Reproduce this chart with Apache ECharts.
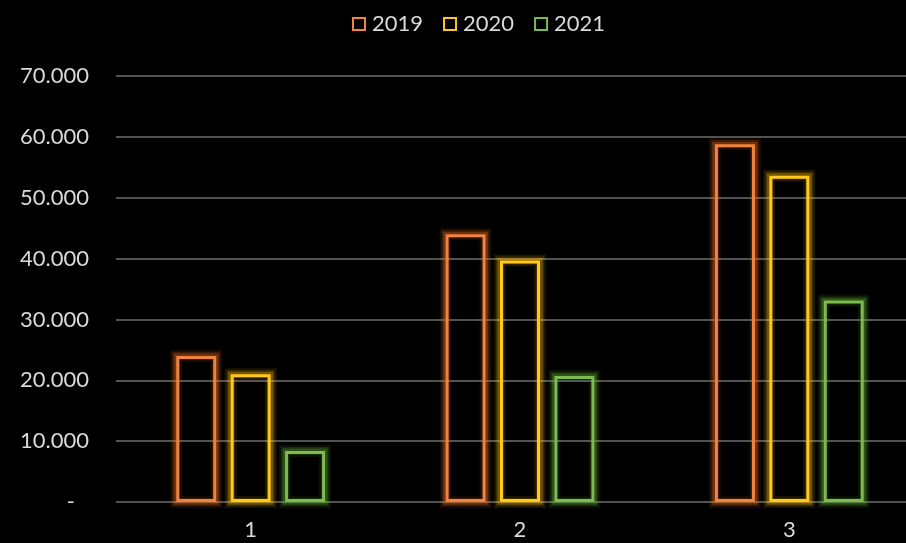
<!DOCTYPE html>
<html>
<head>
<meta charset="utf-8">
<script src="https://cdn.jsdelivr.net/npm/echarts@6/dist/echarts.min.js"></script>
<style>html,body{margin:0;padding:0;background:#000;}#c{width:906px;height:543px;}</style>
</head>
<body>
<div id="c"></div>
<script>
const categories = ['1', '2', '3'];
const seriesNames = ['2019', '2020', '2021'];
const values2019 = [24000, 44000, 58800];
const values2020 = [21000, 39700, 53600];
const values2021 = [8400, 20700, 33100];
const yTicks = [0, 10000, 20000, 30000, 40000, 50000, 60000, 70000];

const colors = ['#F0833F', '#FFC81A', '#7DBA50'];
const glowRGB = ['237,110,30', '255,192,0', '100,175,50'];
const allValues = [values2019, values2020, values2021];

const chart = echarts.init(document.getElementById('c'));
const fontFam = 'Lato, "DejaVu Sans", sans-serif';
const yMin = yTicks[0], yMax = yTicks[yTicks.length - 1];

const BAR_W = 40, GAP_RATIO = 0.36;

function glowSeries(i) {
  return {
    name: 'glow' + seriesNames[i],
    type: 'custom',
    silent: true,
    z: 1,
    data: allValues[i].map((v, k) => [k, v]),
    renderItem: function (params, api) {
      const step = BAR_W * (1 + GAP_RATIO);
      const cx = api.coord([api.value(0), 0])[0] + (i - 1) * step;
      const top = api.coord([api.value(0), api.value(1)])[1];
      const bottom = api.coord([api.value(0), 0])[1];
      const rect = { x: cx - BAR_W / 2, y: top, width: BAR_W, height: bottom - top };
      const layers = [[12, 0.10], [8, 0.16], [5, 0.28]];
      return {
        type: 'group',
        children: layers.map(l => ({
          type: 'rect',
          shape: rect,
          style: { fill: 'none', stroke: 'rgba(' + glowRGB[i] + ',' + l[1] + ')', lineWidth: l[0] }
        }))
      };
    }
  };
}

chart.setOption({
  backgroundColor: '#000',
  animation: false,
  legend: {
    top: 8,
    left: 347,
    itemWidth: 12,
    itemHeight: 12,
    itemGap: 20,
    icon: 'rect',
    textStyle: { color: '#d9d9d9', fontSize: 22, fontFamily: fontFam, padding: [0, 0, 0, 2] },
    data: seriesNames.map((n, i) => ({
      name: n,
      itemStyle: { color: 'rgba(0,0,0,0)', borderColor: colors[i], borderWidth: 2 }
    }))
  },
  grid: { left: 116, right: -18, top: 76, bottom: 41, containLabel: false, outerBoundsMode: 'none' },
  xAxis: {
    type: 'category',
    data: categories,
    axisLine: { show: false },
    axisTick: { show: false },
    axisLabel: { color: '#d9d9d9', fontSize: 22, fontFamily: fontFam, margin: 17 }
  },
  yAxis: {
    type: 'value',
    min: yMin,
    max: yMax,
    interval: yTicks[1] - yTicks[0],
    axisLine: { show: false },
    axisTick: { show: false },
    splitLine: { lineStyle: { color: '#6e6e6e', width: 1.5 } },
    axisLabel: {
      color: '#d9d9d9', fontSize: 22, fontFamily: fontFam, margin: 27,
      formatter: v => v === 0 ? '{d|-}' : (v / 1000).toFixed(0) + '.000',
      rich: { d: { color: '#d9d9d9', fontSize: 22, fontFamily: fontFam, padding: [0, 14, 0, 0] } }
    }
  },
  series: [].concat(
    seriesNames.map((n, i) => glowSeries(i)),
    seriesNames.map((n, i) => ({
      name: n,
      type: 'bar',
      data: allValues[i],
      barWidth: BAR_W,
      barGap: (GAP_RATIO * 100) + '%',
      z: 3,
      itemStyle: {
        color: 'none',
        borderColor: colors[i],
        borderWidth: 3
      }
    }))
  )
});
</script>
</body>
</html>
